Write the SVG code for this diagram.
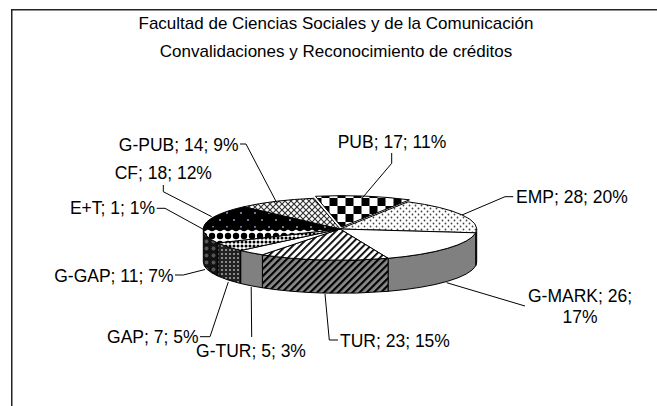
<svg xmlns="http://www.w3.org/2000/svg" width="657" height="406" viewBox="0 0 657 406">
<style>
.sl{stroke:#000;stroke-width:1;stroke-linejoin:round}
.lbl{font-family:"Liberation Sans",Arial,sans-serif;font-size:17.5px;fill:#000}
.ttl{font-family:"Liberation Sans",Arial,sans-serif;font-size:17px;fill:#000;text-anchor:middle}
.ld{fill:none;stroke:#000;stroke-width:1}
</style>
<defs>
<pattern id="pCheck" width="16" height="16" patternUnits="userSpaceOnUse"><rect width="16" height="16" fill="#fff"/><rect width="8" height="8" fill="#000"/><rect x="8" y="8" width="8" height="8" fill="#000"/></pattern>
<pattern id="pDots" width="6" height="6" patternUnits="userSpaceOnUse"><rect width="6" height="6" fill="#fff"/><circle cx="1.5" cy="1.5" r="0.9" fill="#444"/><circle cx="4.5" cy="4.5" r="0.9" fill="#444"/></pattern>
<pattern id="pStripeW" width="5" height="5" patternUnits="userSpaceOnUse" patternTransform="rotate(45)"><rect width="5" height="5" fill="#fff"/><rect width="1.8" height="5" fill="#000"/></pattern>
<pattern id="pStripeG" width="5" height="5" patternUnits="userSpaceOnUse" patternTransform="rotate(45)"><rect width="5" height="5" fill="#8a8a8a"/><rect width="2.2" height="5" fill="#000"/></pattern>
<pattern id="pCross" width="6" height="6" patternUnits="userSpaceOnUse"><rect width="6" height="6" fill="#fff"/><path d="M0,0L6,6M6,0L0,6" stroke="#333" stroke-width="1.2"/></pattern>
<pattern id="pCF" width="14" height="14" patternUnits="userSpaceOnUse"><rect width="14" height="14" fill="#000"/><circle cx="3" cy="3" r="1" fill="#9a9ad8"/><circle cx="10" cy="10" r="1" fill="#9a9ad8"/></pattern>
<pattern id="pGapT" width="4" height="4" patternUnits="userSpaceOnUse"><rect width="4" height="4" fill="#fff"/><circle cx="2" cy="2" r="1.5" fill="#000"/></pattern>
<pattern id="pGapS" width="4" height="4" patternUnits="userSpaceOnUse"><rect width="4" height="4" fill="#222"/><circle cx="2" cy="2" r="1" fill="#aaa"/></pattern>
<pattern id="pGgapT" width="8" height="8" patternUnits="userSpaceOnUse"><rect width="8" height="8" fill="#fff"/><circle cx="4" cy="4" r="3.2" fill="#000"/></pattern>
<pattern id="pGgapS" width="7" height="7" patternUnits="userSpaceOnUse"><rect width="7" height="7" fill="#111"/><circle cx="3.5" cy="3.5" r="2.4" fill="#555" stroke="#000" stroke-width="0.6"/></pattern>
</defs>
<rect width="657" height="406" fill="#fff"/>
<rect x="11.75" y="9.75" width="700" height="450" fill="none" stroke="#222" stroke-width="1.5"/>
<g id="title">
<text class="ttl" x="336" y="29">Facultad de Ciencias Sociales y de la Comunicación</text>
<text class="ttl" x="336" y="57">Convalidaciones y Reconocimiento de créditos</text>
</g>
<g id="sides">
<path class="sl" fill="#222" d="M476.7,229 A136.7,31.3 0 0 1 475.68,232.81 L475.68,265.81 A136.7,31.3 0 0 0 476.7,262 Z"/>
<path class="sl" fill="#808080" d="M475.68,232.81 A136.7,31.3 0 0 1 388.09,258.3 L388.09,291.3 A136.7,31.3 0 0 0 475.68,265.81 Z"/>
<path class="sl" fill="url(#pStripeG)" d="M388.09,258.3 A136.7,31.3 0 0 1 262.38,254.77 L262.38,287.77 A136.7,31.3 0 0 0 388.09,291.3 Z"/>
<path class="sl" fill="#808080" d="M262.38,254.77 A136.7,31.3 0 0 1 240.67,250.51 L240.67,283.51 A136.7,31.3 0 0 0 262.38,287.77 Z"/>
<path class="sl" fill="url(#pGapS)" d="M240.67,250.51 A136.7,31.3 0 0 1 217.76,243.02 L217.76,276.02 A136.7,31.3 0 0 0 240.67,283.51 Z"/>
<path class="sl" fill="url(#pGgapS)" d="M217.76,243.02 A136.7,31.3 0 0 1 203.3,229 L203.3,262 A136.7,31.3 0 0 0 217.76,276.02 Z"/>
</g>
<g id="slice-PUB">
<path class="sl" fill="url(#pCheck)" transform="translate(1.5,-2)" d="M340,229 L313.92,198.28 A136.7,31.3 0 0 1 407.94,201.84 Z"/>
<text class="lbl" x="392" y="148" text-anchor="middle">PUB; 17; 11%</text>
</g>
<g id="slice-EMP">
<path class="sl" fill="url(#pDots)" d="M340,229 L407.94,201.84 A136.7,31.3 0 0 1 475.68,232.81 Z"/>
<text class="lbl" x="516" y="203">EMP; 28; 20%</text>
</g>
<g id="slice-G-MARK">
<path class="sl" fill="#fff" d="M340,229 L475.68,232.81 A136.7,31.3 0 0 1 388.09,258.3 Z"/>
<text class="lbl" x="528" y="302">G-MARK; 26;</text>
<text class="lbl" x="580" y="323" text-anchor="middle">17%</text>
</g>
<g id="slice-TUR">
<path class="sl" fill="url(#pStripeW)" d="M340,229 L388.09,258.3 A136.7,31.3 0 0 1 262.38,254.77 Z"/>
<text class="lbl" x="340" y="346.7">TUR; 23; 15%</text>
</g>
<g id="slice-G-TUR">
<path class="sl" fill="#fff" d="M340,229 L262.38,254.77 A136.7,31.3 0 0 1 240.67,250.51 Z"/>
<text class="lbl" x="251" y="356.7" text-anchor="middle">G-TUR; 5; 3%</text>
</g>
<g id="slice-GAP">
<path class="sl" fill="url(#pGapT)" d="M340,229 L240.67,250.51 A136.7,31.3 0 0 1 217.76,243.02 Z"/>
<text class="lbl" x="198.5" y="343.3" text-anchor="end">GAP; 7; 5%</text>
</g>
<g id="slice-G-GAP">
<path class="sl" fill="url(#pGgapT)" d="M340,229 L217.76,243.02 A136.7,31.3 0 0 1 203.3,229.11 Z"/>
<text class="lbl" x="173.5" y="281.7" text-anchor="end">G-GAP; 11; 7%</text>
</g>
<g id="slice-ET">
<path class="sl" fill="#000" d="M340,229 L203.3,229.11 A136.7,31.3 0 0 1 203.4,227.8 Z"/>
<text class="lbl" x="155" y="214" text-anchor="end">E+T; 1; 1%</text>
</g>
<g id="slice-CF">
<path class="sl" fill="url(#pCF)" d="M340,229 L203.4,227.8 A136.7,31.3 0 0 1 244.01,206.71 Z"/>
<text class="lbl" x="163.3" y="179" text-anchor="middle">CF; 18; 12%</text>
</g>
<g id="slice-G-PUB">
<path class="sl" fill="url(#pCross)" d="M340,229 L244.01,206.71 A136.7,31.3 0 0 1 313.92,198.28 Z"/>
<text class="lbl" x="238.5" y="150.7" text-anchor="end">G-PUB; 14; 9%</text>
</g>
<g id="connectors">
<path class="ld" d="M391.7,153 V163.3 L362,198.3"/>
<path class="ld" d="M513.3,196.7 H505 L462,215"/>
<path class="ld" d="M446.7,282.7 L525,306"/>
<path class="ld" d="M325,294 L329.3,340 H338"/>
<path class="ld" d="M251.2,287 L251.7,337"/>
<path class="ld" d="M228.3,282 L210,336.7 H200"/>
<path class="ld" d="M205,269.5 L183.3,275 H175"/>
<path class="ld" d="M156.7,208.3 H165 L203.3,229.3"/>
<path class="ld" d="M163.3,185 V191.7 L211.7,216.7"/>
<path class="ld" d="M240,144 H246 L276.7,202.7"/>
</g>
</svg>
